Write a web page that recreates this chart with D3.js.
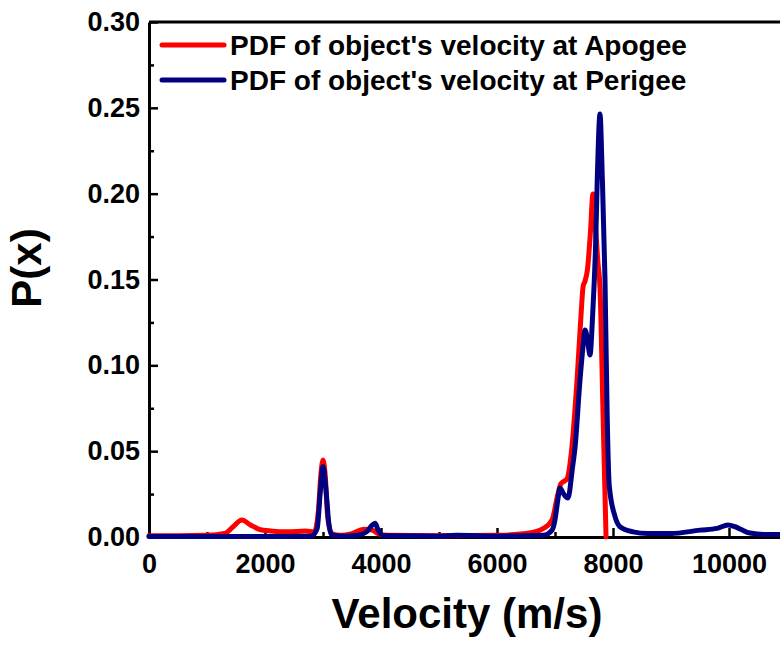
<!DOCTYPE html>
<html>
<head>
<meta charset="utf-8">
<script src="https://cdn.jsdelivr.net/npm/d3@7"></script>
<style>
  body { margin: 0; background: #fff; }
  text { font-family: "Liberation Sans", Arial, sans-serif; font-weight: bold; fill: #000; }
</style>
</head>
<body>
<svg id="chart"></svg>
<script>
// series (velocity in m/s, probability)
const apogeeV = [0, 500, 1000, 1300, 1450, 1600, 1750, 1900, 2100, 2400, 2700, 2850, 2920, 2960, 3000, 3040, 3080, 3150, 3300, 3500, 3700, 3850, 3950, 4100, 5000, 6000, 6500, 6800, 6950, 7050, 7100, 7180, 7210, 7290, 7380, 7450, 7485, 7517, 7560, 7610, 7655, 7700, 7740, 7776, 7828, 7880]
const apogeeP = [0.0008, 0.0008, 0.001, 0.002, 0.006, 0.0099, 0.007, 0.0045, 0.0035, 0.003, 0.0035, 0.003, 0.015, 0.035, 0.0449, 0.035, 0.012, 0.002, 0.001, 0.002, 0.0045, 0.004, 0.002, 0.001, 0.0008, 0.001, 0.002, 0.005, 0.01, 0.025, 0.031, 0.033, 0.034, 0.052, 0.0915, 0.13, 0.146, 0.149, 0.156, 0.177, 0.1998, 0.18, 0.16, 0.145, 0.072, 0.0]

const perigeeV = [0, 1000, 2000, 2800, 2900, 2950, 3000, 3050, 3100, 3150, 3400, 3600, 3750, 3850, 3900, 3950, 4050, 5000, 5300, 6000, 6800, 6950, 7000, 7050, 7086, 7150, 7224, 7300, 7345, 7431, 7480, 7517, 7560, 7603, 7650, 7700, 7730, 7776, 7815, 7862, 7900, 7935, 8034, 8120, 8345, 8600, 9000, 9500, 9793, 9983, 10100, 10190, 10362, 10600, 10900]
const perigeeP = [0.0003, 0.0003, 0.0003, 0.0005, 0.005, 0.025, 0.041, 0.028, 0.008, 0.001, 0.0005, 0.001, 0.003, 0.007, 0.008, 0.004, 0.0008, 0.0005, 0.001, 0.0005, 0.001, 0.004, 0.01, 0.022, 0.0285, 0.025, 0.0227, 0.04, 0.052, 0.0915, 0.11, 0.1206, 0.115, 0.106, 0.13, 0.17, 0.21, 0.2464, 0.21, 0.15, 0.07, 0.03, 0.012, 0.006, 0.003, 0.002, 0.002, 0.004, 0.005, 0.007, 0.006, 0.0047, 0.0023, 0.0015, 0.0015]

const seriesNames = ["PDF of object's velocity at Apogee", "PDF of object's velocity at Perigee"]
const seriesColors = ['#ff0000', '#000080']

const xMajor = [0, 2000, 4000, 6000, 8000, 10000]
const xMinor = [1000, 3000, 5000, 7000, 9000, 11000]
const yMajor = [0, 0.05, 0.10, 0.15, 0.20, 0.25, 0.30]
const yMinor = [0.025, 0.075, 0.125, 0.175, 0.225, 0.275]

const margin = {top: 22, left: 149}
const width = 638   // runs past the right edge of the picture, like the original
const height = 515

const svg = d3.select('#chart')
    .attr('width', 780)
    .attr('height', 651)

const chart = svg.append('g')
    .attr('transform', `translate(${margin.left},${margin.top})`)

const x = d3.scaleLinear().domain([0, 11000]).range([0, width])
const y = d3.scaleLinear().domain([0, 0.30]).range([height, 0])

// minor ticks first, then the major axes on top
chart.append('g')
    .attr('transform', `translate(0,${height})`)
    .call(d3.axisBottom(x).tickValues(xMinor).tickSize(-5).tickFormat(''))
    .call(g => g.select('.domain').remove())

chart.append('g')
    .call(d3.axisLeft(y).tickValues(yMinor).tickSize(-5).tickFormat(''))
    .call(g => g.select('.domain').remove())

const xAxisG = chart.append('g')
    .attr('transform', `translate(0,${height})`)
    .call(d3.axisBottom(x).tickValues(xMajor).tickSize(-9).tickSizeOuter(0).tickPadding(17).tickFormat(d3.format('d')))

const yAxisG = chart.append('g')
    .call(d3.axisLeft(y).tickValues(yMajor).tickSize(-9).tickSizeOuter(0).tickPadding(9).tickFormat(d3.format('.2f')))

chart.selectAll('.tick line').attr('stroke', '#000').attr('stroke-width', 2.5)
chart.selectAll('.tick text').style('font-size', '27px')
xAxisG.select('.domain').attr('stroke-width', 3)
yAxisG.select('.domain').attr('stroke-width', 3)

// top frame line
chart.append('line')
    .attr('x1', 0).attr('x2', width)
    .attr('y1', 0).attr('y2', 0)
    .attr('stroke', '#000')
    .attr('stroke-width', 3)

const line = d3.line()
    .x(d => x(d[0]))
    .y(d => y(d[1]))
    .curve(d3.curveMonotoneX)

const series = [
    d3.zip(apogeeV, apogeeP),
    d3.zip(perigeeV, perigeeP)
]

chart.selectAll('.pdf')
    .data(series)
    .join('path')
    .attr('class', 'pdf')
    .attr('d', line)
    .attr('fill', 'none')
    .attr('stroke', (d, i) => seriesColors[i])
    .attr('stroke-width', 5)
    .attr('stroke-linejoin', 'round')
    .attr('stroke-linecap', 'round')

// legend
const legend = svg.append('g')
    .attr('transform', 'translate(162,45)')

seriesNames.forEach((name, i) => {
    const row = legend.append('g').attr('transform', `translate(0,${i * 35})`)
    row.append('line')
        .attr('x1', 0).attr('x2', 62)
        .attr('stroke', seriesColors[i])
        .attr('stroke-width', 5)
        .attr('stroke-linecap', 'round')
    row.append('text')
        .attr('x', 68)
        .attr('dy', '0.36em')
        .style('font-size', '28px')
        .text(name)
})

// axis titles
svg.append('text')
    .attr('x', 467)
    .attr('y', 628)
    .attr('text-anchor', 'middle')
    .style('font-size', '42px')
    .text('Velocity (m/s)')

svg.append('text')
    .attr('transform', 'translate(41,268) rotate(-90)')
    .attr('text-anchor', 'middle')
    .style('font-size', '42px')
    .text('P(x)')
</script>
</body>
</html>
